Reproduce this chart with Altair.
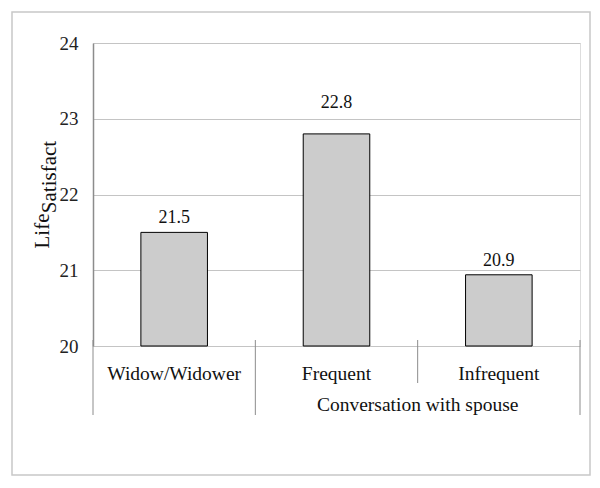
import altair as alt
import pandas as pd

categories = ["Widow/Widower", "Frequent", "Infrequent"]
values = [21.5, 22.8, 20.94]
value_labels = ["21.5", "22.8", "20.9"]
y_ticks = [20, 21, 22, 23, 24]
group_label = "Conversation with spouse"
y_title_parts = ["Life", "Satisfact"]

FONT = "Liberation Serif"
W, H = 487, 303
BW = 0.41

df = pd.DataFrame({"cat": categories, "idx": list(range(len(categories))),
                   "value": values, "label": value_labels})

xs = alt.Scale(domain=[0, 3], nice=False, zero=False)
ys = alt.Scale(domain=[20, 24], nice=False, zero=False)

base = alt.Chart(df).transform_calculate(
    x0=f"datum.idx + 0.5 - {BW / 2}",
    x1=f"datum.idx + 0.5 + {BW / 2}",
    xc="datum.idx + 0.5",
)

bars = base.mark_bar(fill="#cccccc", stroke="black", strokeWidth=1).encode(
    x=alt.X("x0:Q", scale=xs, axis=None),
    x2="x1:Q",
    y=alt.Y("value:Q", scale=ys,
            axis=alt.Axis(values=y_ticks, format="d", grid=True, gridColor="#c4c4c4",
                          domainColor="#8c8c8c", domainWidth=1.5, ticks=False,
                          labelFont=FONT, labelFontSize=19, labelColor="#222",
                          labelPadding=15, title=None)),
    y2=alt.datum(20),
)

lab_low = base.transform_filter("datum.value < 22.5").mark_text(
    font=FONT, fontSize=18, baseline="middle", dy=-14, color="#111"
).encode(x=alt.X("xc:Q", scale=xs), y=alt.Y("value:Q", scale=ys), text="label:N")

lab_high = base.transform_filter("datum.value >= 22.5").mark_text(
    font=FONT, fontSize=18, baseline="middle", dy=-31, color="#111"
).encode(x=alt.X("xc:Q", scale=xs), y=alt.Y("value:Q", scale=ys), text="label:N")

cat_text = base.mark_text(font=FONT, fontSize=19.5, baseline="middle", color="#111").encode(
    x=alt.X("xc:Q", scale=xs), y=alt.value(H + 28), text="cat:N"
)

group_df = pd.DataFrame({"g": [group_label], "gx": [2.0]})
group_text = alt.Chart(group_df).mark_text(font=FONT, fontSize=19.5, baseline="middle", color="#111").encode(
    x=alt.X("gx:Q", scale=xs), y=alt.value(H + 59), text="g:N"
)

div_df = pd.DataFrame({"d": [0, 1, 3]})
dividers = alt.Chart(div_df).mark_rule(color="#8c8c8c", strokeWidth=1).encode(
    x=alt.X("d:Q", scale=xs), y=alt.value(H - 6), y2=alt.value(H + 69)
)
div_df2 = pd.DataFrame({"d": [2]})
dividers2 = alt.Chart(div_df2).mark_rule(color="#8c8c8c", strokeWidth=1).encode(
    x=alt.X("d:Q", scale=xs), y=alt.value(H - 6), y2=alt.value(H + 37)
)

ttl1 = alt.Chart(pd.DataFrame({"t": [y_title_parts[0]]})).mark_text(
    font=FONT, fontSize=21, angle=270, baseline="middle", color="#111"
).encode(x=alt.value(-50), y=alt.value(188), text="t:N")
ttl2 = alt.Chart(pd.DataFrame({"t": [y_title_parts[1]]})).mark_text(
    font=FONT, fontSize=21, angle=270, baseline="middle", color="#111"
).encode(x=alt.value(-43), y=alt.value(134), text="t:N")

frame = alt.Chart(pd.DataFrame({"a": [0]})).mark_rect(
    fill=None, stroke="#c8c8c8", strokeWidth=1.5
).encode(x=alt.value(-81), x2=alt.value(497), y=alt.value(-31), y2=alt.value(432))

chart = alt.layer(frame, bars, dividers, dividers2, lab_low, lab_high, cat_text,
                  group_text, ttl1, ttl2).properties(
    width=W, height=H,
    autosize=alt.AutoSizeParams(type="none"),
    padding={"left": 85, "top": 35, "right": 12, "bottom": 132},
).configure_view(stroke="#a0a0a0", strokeWidth=1).configure_text(font=FONT).configure(background="white")

chart.save("out.html", embed_options={"renderer": "svg", "actions": False})
